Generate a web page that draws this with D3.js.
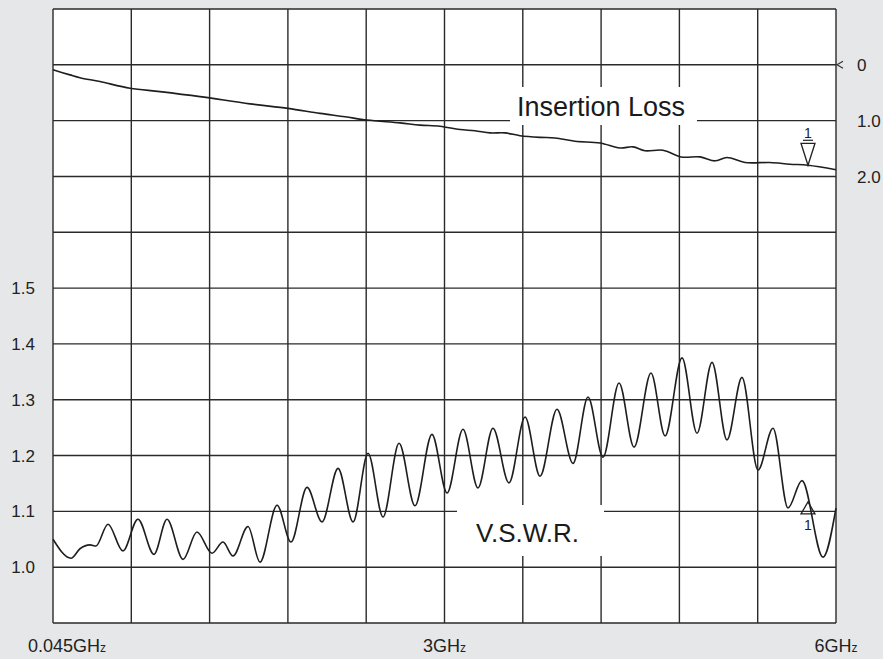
<!DOCTYPE html>
<html>
<head>
<meta charset="utf-8">
<script src="https://cdn.jsdelivr.net/npm/d3@7"></script>
<style>
  body { margin: 0; background: #e6e7e8; }
  svg { display: block; font-family: "Liberation Sans", Arial, sans-serif; }
</style>
</head>
<body>
<svg width="883" height="659"></svg>
<script>
// sweep 0.045 - 6 GHz, 10 divisions
const freqStart = 0.045;
const freqStop = 6;

// insertion loss trace (dB)
const lossFreq = [0.045, 0.174, 0.25, 0.402, 0.631, 0.859, 1.163, 1.543, 1.832, 2.076, 2.266, 2.433,
  2.684, 2.836, 2.988, 3.14, 3.254, 3.369, 3.483, 3.597, 3.749, 3.863, 4.015, 4.205, 4.357, 4.456,
  4.548, 4.684, 4.821, 4.966, 5.08, 5.171, 5.308, 5.498, 5.65, 5.787, 6.0];
const lossDb = [0.09, 0.18, 0.23, 0.30, 0.42, 0.48, 0.57, 0.70, 0.78, 0.87, 0.93, 0.99,
  1.04, 1.08, 1.10, 1.16, 1.18, 1.22, 1.22, 1.27, 1.30, 1.31, 1.37, 1.40, 1.49, 1.47,
  1.54, 1.53, 1.65, 1.65, 1.72, 1.66, 1.75, 1.75, 1.78, 1.80, 1.88];

// VSWR trace
const vswrFreq = [0.045, 0.182, 0.25, 0.326, 0.372, 0.463, 0.577, 0.691, 0.813, 0.912, 1.034, 1.14,
  1.254, 1.338, 1.414, 1.528, 1.619, 1.749, 1.855, 1.977, 2.091, 2.213, 2.327, 2.441, 2.555, 2.677,
  2.798, 2.927, 3.042, 3.163, 3.277, 3.391, 3.513, 3.635, 3.749, 3.878, 4.0, 4.114, 4.228, 4.35,
  4.464, 4.593, 4.7, 4.829, 4.943, 5.057, 5.171, 5.285, 5.407, 5.521, 5.635, 5.741, 5.901, 6.0];
const vswrValue = [1.050, 1.016, 1.033, 1.040, 1.038, 1.077, 1.029, 1.086, 1.023, 1.086, 1.014, 1.063,
  1.025, 1.045, 1.020, 1.073, 1.009, 1.111, 1.045, 1.143, 1.081, 1.177, 1.081, 1.204, 1.090, 1.222,
  1.110, 1.238, 1.133, 1.247, 1.142, 1.249, 1.151, 1.269, 1.163, 1.283, 1.186, 1.305, 1.197, 1.330,
  1.215, 1.348, 1.235, 1.375, 1.240, 1.367, 1.228, 1.340, 1.174, 1.249, 1.106, 1.155, 1.018, 1.106];

// axis labels
const lossTicks = [0, 1, 2];
const lossTickLabels = ["0", "1.0", "2.0"];
const vswrTicks = [1.0, 1.1, 1.2, 1.3, 1.4, 1.5];
const vswrTickLabels = ["1.0", "1.1", "1.2", "1.3", "1.4", "1.5"];
const freqTicks = [0.045, 3.0225, 6];
const freqTickLabels = ["0.045GHz", "3GHz", "6GHz"];

// marker 1
const markerFreq = 5.787;
const markerLoss = 1.80;
const markerVswr = 1.117;

const plotLeft = 53, plotRight = 836, plotTop = 9, plotBottom = 623;
const svg = d3.select("svg");

const x = d3.scaleLinear().domain([freqStart, freqStop]).range([plotLeft, plotRight]);
const yLoss = d3.scaleLinear().domain([-1, 10]).range([plotTop, plotBottom]);
const yVswr = d3.scaleLinear().domain([0.9, 2.0]).range([plotBottom, plotTop]);

svg.append("rect")
  .attr("x", plotLeft).attr("y", plotTop)
  .attr("width", plotRight - plotLeft).attr("height", plotBottom - plotTop)
  .attr("fill", "#fff");

const grid = svg.append("g").attr("stroke", "#2a2a2a").attr("stroke-width", 1.4);
const vLines = d3.range(11).map((i) => freqStart + (i * (freqStop - freqStart)) / 10);
grid.selectAll(".v")
  .data(vLines)
  .enter()
  .append("line")
  .attr("x1", (d) => x(d)).attr("x2", (d) => x(d))
  .attr("y1", plotTop).attr("y2", plotBottom);
grid.selectAll(".h")
  .data(d3.range(-1, 11))
  .enter()
  .append("line")
  .attr("x1", plotLeft).attr("x2", plotRight)
  .attr("y1", (d) => yLoss(d)).attr("y2", (d) => yLoss(d));

// reference level arrow at 0 dB
svg.append("path")
  .attr("d", `M${plotRight + 7},${yLoss(0) - 3.5}L${plotRight + 1},${yLoss(0)}L${plotRight + 7},${yLoss(0) + 3.5}`)
  .attr("fill", "none").attr("stroke", "#333").attr("stroke-width", 1.2);

// label boxes
svg.append("rect").attr("x", 510).attr("y", 87).attr("width", 187).attr("height", 38).attr("fill", "#fff");
svg.append("rect").attr("x", 457).attr("y", 505).attr("width", 147).attr("height", 51).attr("fill", "#fff");

const lossLine = d3.line()
  .x((d, i) => x(lossFreq[i]))
  .y((d) => yLoss(d))
  .curve(d3.curveCatmullRom.alpha(0.5));
const vswrLine = d3.line()
  .x((d, i) => x(vswrFreq[i]))
  .y((d) => yVswr(d))
  .curve(d3.curveMonotoneX);

svg.append("path").attr("d", lossLine(lossDb))
  .attr("fill", "none").attr("stroke", "#1e1e1e").attr("stroke-width", 1.6);
svg.append("path").attr("d", vswrLine(vswrValue))
  .attr("fill", "none").attr("stroke", "#1e1e1e").attr("stroke-width", 1.6);

// marker triangles
const mx = x(markerFreq);
const ml = yLoss(markerLoss);
svg.append("path")
  .attr("d", `M${mx},${ml}L${mx - 7},${ml - 22}L${mx + 7},${ml - 22}Z`)
  .attr("fill", "none").attr("stroke", "#222").attr("stroke-width", 1.3);
svg.append("text").attr("x", mx).attr("y", ml - 27).attr("text-anchor", "middle")
  .attr("font-size", 14).attr("fill", "#222").text("1");
svg.append("line").attr("x1", mx - 5).attr("x2", mx + 5).attr("y1", ml - 25).attr("y2", ml - 25)
  .attr("stroke", "#222").attr("stroke-width", 1.2);

const mv = yVswr(markerVswr);
svg.append("path")
  .attr("d", `M${mx},${mv}L${mx - 7},${mv + 12}L${mx + 7},${mv + 12}Z`)
  .attr("fill", "none").attr("stroke", "#222").attr("stroke-width", 1.3);
svg.append("text").attr("x", mx).attr("y", mv + 28).attr("text-anchor", "middle")
  .attr("font-size", 14).attr("fill", "#222").text("1");

// trace labels
svg.append("text").attr("x", 517).attr("y", 116).attr("font-size", 27).attr("fill", "#1a1a1a")
  .text("Insertion Loss");
svg.append("text").attr("x", 476).attr("y", 542).attr("font-size", 26).attr("fill", "#1a1a1a")
  .text("V.S.W.R.");

// axis texts
svg.selectAll(".lossTick")
  .data(lossTicks)
  .enter()
  .append("text")
  .attr("x", 857).attr("y", (d) => yLoss(d)).attr("dy", "0.36em")
  .attr("font-size", 17).attr("fill", "#222")
  .text((d, i) => lossTickLabels[i]);

svg.selectAll(".vswrTick")
  .data(vswrTicks)
  .enter()
  .append("text")
  .attr("x", 35).attr("y", (d) => yVswr(d)).attr("dy", "0.36em")
  .attr("text-anchor", "end")
  .attr("font-size", 17).attr("fill", "#222")
  .text((d, i) => vswrTickLabels[i]);

const fLabels = svg.selectAll(".freqTick")
  .data(freqTicks)
  .enter()
  .append("text")
  .attr("x", (d, i) => (i === 0 ? x(d) - 25 : x(d)))
  .attr("y", 652)
  .attr("text-anchor", (d, i) => (i === 0 ? "start" : "middle"))
  .attr("font-size", 18).attr("fill", "#222");
fLabels.append("tspan").text((d, i) => freqTickLabels[i].slice(0, -1));
fLabels.append("tspan").attr("font-size", 12).text((d, i) => freqTickLabels[i].slice(-1));
</script>
</body>
</html>
